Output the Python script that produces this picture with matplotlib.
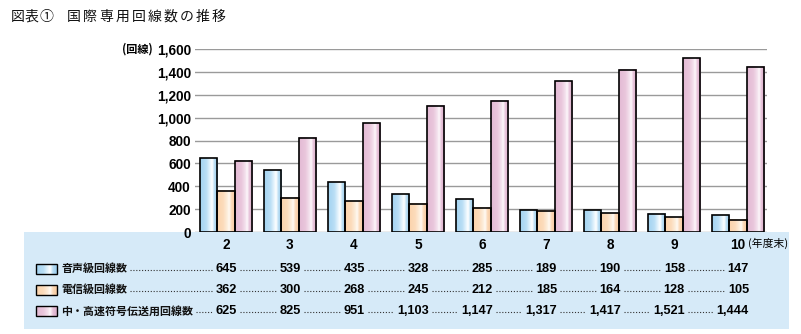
import numpy as np
import matplotlib
matplotlib.use("Agg")
import matplotlib.pyplot as plt
from matplotlib import transforms
from matplotlib.colors import LinearSegmentedColormap

plt.rcParams['font.family'] = ['Noto Sans CJK JP', 'DejaVu Sans']

# ---- data ----
years = ["2", "3", "4", "5", "6", "7", "8", "9", "10"]
voice = [645, 539, 435, 328, 285, 189, 190, 158, 147]
telegraph = [362, 300, 268, 245, 212, 185, 164, 128, 105]
highspeed = [625, 825, 951, 1103, 1147, 1317, 1417, 1521, 1444]
series_names = ["音声級回線数", "電信級回線数", "中・高速符号伝送用回線数"]
series_values = [voice, telegraph, highspeed]
yticks = [0, 200, 400, 600, 800, 1000, 1200, 1400, 1600]

title_no = "図表①"
title = "国際専用回線数の推移"
unit_y = "(回線)"
unit_x = "(年度末)"

# base / highlight colours for the cylindrical bar shading
palettes = [
    ["#a3d3f1", "#b9def5", "#e9f6fd", "#ffffff", "#b6dcf3", "#9bcbec"],
    ["#fbd3ab", "#fcdcbc", "#fdeedd", "#fffaf4", "#fbd8b6", "#f5c9a0"],
    ["#e3bad4", "#e9c6dc", "#f4e2ed", "#fdf8fb", "#e6c0d8", "#dbafcb"],
]
stops = [0.0, 0.35, 0.58, 0.68, 0.82, 1.0]
cmaps = [LinearSegmentedColormap.from_list(f"c{i}", list(zip(stops, p)))
         for i, p in enumerate(palettes)]
grad = np.linspace(0, 1, 64).reshape(1, -1)

W, H = 801, 334
fig = plt.figure(figsize=(W / 100, H / 100), dpi=100)

# full-figure overlay in pixel coordinates (top-left origin)
ov = fig.add_axes([0, 0, 1, 1], zorder=0)
ov.set_xlim(0, W)
ov.set_ylim(H, 0)
ov.axis("off")

# light-blue data table band
ov.add_patch(plt.Rectangle((24, 232), 765, 97, facecolor="#d6eaf8",
                           edgecolor="none"))

# main bar chart
ax = fig.add_axes([195 / W, (H - 232) / H, (767 - 195) / W, (232 - 49) / H],
                  zorder=2)
ax.patch.set_alpha(0)
x = np.arange(len(years))
bw = 0.272

for yv in yticks:
    ax.axhline(yv, color="#9a9a9a", lw=1.0, zorder=1)

for si, vals in enumerate(series_values):
    bars = ax.bar(x + (si - 1) * bw, vals, width=bw, facecolor="none",
                  edgecolor="black", linewidth=1.2, zorder=4)
    for b in bars:
        x0, w_, h_ = b.get_x(), b.get_width(), b.get_height()
        ax.imshow(grad, cmap=cmaps[si], aspect="auto",
                  extent=[x0, x0 + w_, 0, h_], zorder=3,
                  interpolation="bilinear")
ax.set_xlim(-0.484, len(years) - 1 + 0.455)
ax.set_ylim(0, 1600)

for s in ax.spines.values():
    s.set_visible(False)
ax.set_yticks(yticks)
ax.set_yticklabels([f"{v:,}" for v in yticks], family="Liberation Sans",
                   fontweight="bold", fontsize=9.8)
ax.tick_params(axis="y", length=0, pad=3)
ax.set_xticks(x)
ax.set_xticklabels(years, family="Liberation Sans", fontweight="bold",
                   fontsize=9.8)
ax.tick_params(axis="x", length=0, pad=4)

# title, drawn with loose letter spacing
for i, ch in enumerate(title_no):
    ov.text(11 + i * 14, 17, ch, fontsize=10, va="center", ha="left",
            color="#111111")
for i, ch in enumerate(title):
    ov.text(67 + i * 16.1, 17, ch, fontsize=10, va="center", ha="left",
            color="#111111")

ov.text(153, 49, unit_y, fontsize=8, va="center", ha="right",
        fontweight="bold")
ov.text(748, 243, unit_x, fontsize=7.8, va="center", ha="left")

# table rows
row_y = [269, 290, 311]
bt = transforms.blended_transform_factory(ax.transData, ov.transData)
val_off = transforms.ScaledTranslation(11 / 100, 0, fig.dpi_scale_trans)

label_texts = []
value_texts = []
for ri, (name, vals) in enumerate(zip(series_names, series_values)):
    yy = row_y[ri]
    # swatch
    ov.imshow(grad, cmap=cmaps[ri], aspect="auto",
              extent=[36, 57, yy + 5, yy - 5], zorder=2,
              interpolation="bilinear")
    ov.add_patch(plt.Rectangle((36, yy - 5), 21, 10, facecolor="none",
                               edgecolor="black", lw=1.0, zorder=3))
    lt = ov.text(61, yy, name, fontsize=7.9, va="center", ha="left",
                 fontweight="bold", color="#111111")
    label_texts.append(lt)
    row = []
    for xi, v in zip(x, vals):
        t = fig.text(xi, yy, f"{v:,}", transform=bt + val_off,
                     family="Liberation Sans", fontweight="bold",
                     fontsize=9.2, ha="right", va="center")
        row.append(t)
    value_texts.append(row)
ov.set_xlim(0, W)
ov.set_ylim(H, 0)

# dotted leaders between label and values
fig.canvas.draw()
r = fig.canvas.get_renderer()
inv = ov.transData.inverted()
for ri in range(3):
    yy = row_y[ri]
    exts = [label_texts[ri].get_window_extent(r)] + \
           [t.get_window_extent(r) for t in value_texts[ri]]
    for a, b in zip(exts[:-1], exts[1:]):
        xa = inv.transform((a.x1, 0))[0] + 3
        xb = inv.transform((b.x0, 0))[0] - 3
        ov.plot([xa, xb], [yy + 1, yy + 1], color="#333333", lw=0.8,
                linestyle=(0, (1, 1.6)), zorder=2)

fig.savefig("out.png", dpi=100)
